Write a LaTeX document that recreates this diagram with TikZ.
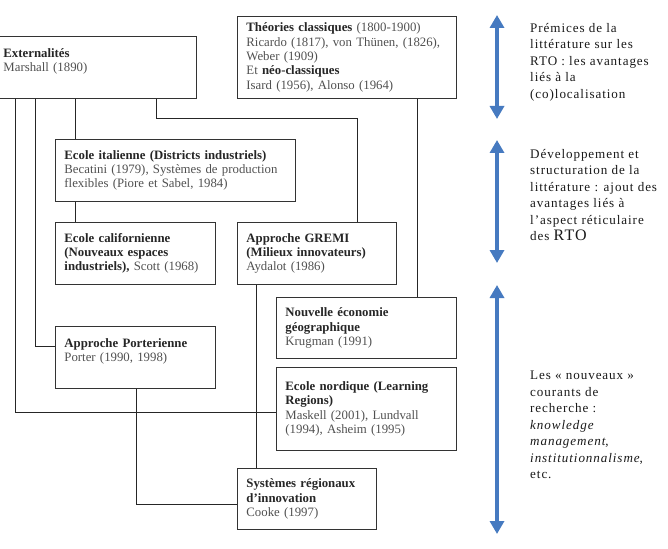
\documentclass[tikz,border=0pt]{standalone}
\usepackage{fontspec}
\setmainfont{Liberation Serif}
\newfontfamily\sidefont{Liberation Serif}[LetterSpace=7]
\usetikzlibrary{arrows.meta}
\definecolor{spanblue}{RGB}{70,122,192}
\definecolor{boxline}{RGB}{51,51,51}
\definecolor{boxhead}{RGB}{38,38,38}
\definecolor{boxbody}{RGB}{80,80,80}
\tikzset{
  % --- the literature boxes --------------------------------------------------
  box/.style={draw=boxline,line width=0.9pt,anchor=north west,align=left,
              inner xsep=9pt,inner ysep=0pt,text=boxbody,
              font=\fontsize{12.8}{14.3}\selectfont},
  link/.style={draw=black!85,line width=0.8pt},
  % --- period arrows and their comments --------------------------------------
  span/.style={spanblue,line width=4pt,
               {Triangle[width=14pt,length=13pt]}-{Triangle[width=14pt,length=13pt]}},
  side/.style={anchor=north west,align=left,inner sep=0pt,text=black!90,
               font=\sidefont\fontsize{13.1}{16.5}\selectfont},
}
\newcommand{\hd}[1]{\textcolor{boxhead}{\textbf{#1}}}

\begin{document}
\begin{tikzpicture}[x=1pt,y=-1pt]
  \useasboundingbox (0,0) rectangle (668,548);

  \node[box,text width=184pt,minimum height=62pt] (ext) at (-6,36)
    {\hd{Externalités}\\Marshall (1890)\\\mbox{}};
  \node[box,text width=201pt,minimum height=82pt] (theo) at (237,16)
    {\hd{Théories classiques} (1800-1900)\\Ricardo (1817), von Thünen, (1826),\\
     Weber (1909)\\Et \hd{néo-classiques}\\Isard (1956), Alonso (1964)};
  \node[box,text width=222pt,minimum height=62pt] (ital) at (55,139)
    {\hd{Ecole italienne (Districts industriels)}\\Becatini (1979), Systèmes de production\\
     flexibles (Piore et Sabel, 1984)};
  \node[box,text width=142pt,minimum height=62pt] (calif) at (55,222)
    {\hd{Ecole californienne}\\\hd{(Nouveaux espaces}\\\hd{industriels),} Scott (1968)};
  \node[box,text width=141pt,minimum height=62pt] (gremi) at (237,222)
    {\hd{Approche GREMI}\\\hd{(Milieux innovateurs)}\\Aydalot (1986)};
  \node[box,text width=162pt,minimum height=61pt] (nouv) at (276,297)
    {\hd{Nouvelle économie}\\\hd{géographique}\\Krugman (1991)};
  \node[box,text width=142pt,minimum height=62pt] (porter) at (55,326)
    {\hd{Approche Porterienne}\\Porter (1990, 1998)\\\mbox{}};
  \node[box,text width=162pt,minimum height=83pt] (nord) at (276,367)
    {\hd{Ecole nordique (Learning}\\\hd{Regions)}\\Maskell (2001), Lundvall\\
     (1994), Asheim (1995)};
  \node[box,text width=121pt,minimum height=61pt] (syst) at (237,468)
    {\hd{Systèmes régionaux}\\\hd{d’innovation}\\Cooke (1997)};

  % filiations
  \draw[link] ([xshift=21pt]ext.south west) |- ([yshift=-3.5pt]nord.west);
  \draw[link] ([xshift=41pt]ext.south west) |- ([yshift=11pt]porter.west);
  \draw[link] ([xshift=81pt]ext.south west) -- ([xshift=20pt]ital.north west);
  \draw[link] ([xshift=20pt]ital.south west) -- ([xshift=20pt]calif.north west);
  \draw[link] ([xshift=162pt]ext.south west) -- ++(0,20) -| ([xshift=120pt]gremi.north west);
  \draw[link] ([xshift=180pt]theo.south west) -- ([xshift=141pt]nouv.north west);
  \draw[link] ([xshift=19pt]gremi.south west) -- ([xshift=19pt]syst.north west);
  \draw[link] ([xshift=81pt]porter.south west) |- ([yshift=-5.5pt]syst.west);

  % periods
  \coordinate (p1top) at (497,15);  \coordinate (p1bot) at (497,119);
  \coordinate (p2top) at (497,140); \coordinate (p2bot) at (497,263);
  \coordinate (p3top) at (497,285); \coordinate (p3bot) at (497,534);
  \draw[span] (p1top) -- (p1bot);
  \draw[span] (p2top) -- (p2bot);
  \draw[span] (p3top) -- (p3bot);

  \node[side] (c1) at (530,23)
    {Prémices de la\\littérature sur les\\RTO : les avantages\\liés à la\\(co)localisation};
  \node[side] (c2) at (530,149)
    {Développement et\\structuration de la\\littérature : ajout des\\avantages liés à\\
     l’aspect réticulaire\\des {\fontsize{16}{18}\selectfont RTO}};
  \node[side] (c3) at (530,371)
    {Les « nouveaux »\\courants de\\recherche :\\\textit{knowledge}\\\textit{management},\\
     \textit{institutionnalisme},\\etc.};
\end{tikzpicture}
\end{document}
